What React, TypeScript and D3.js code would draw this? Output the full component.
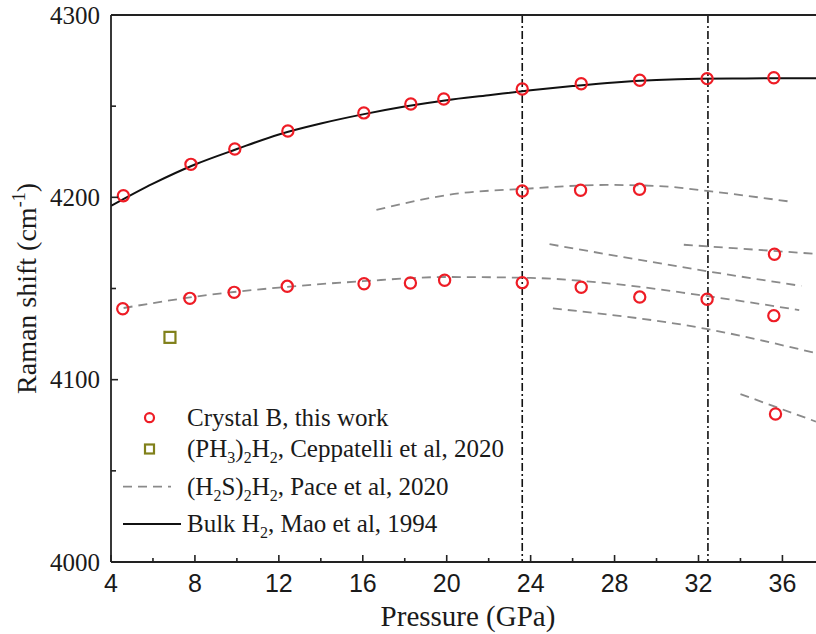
import React from 'react';
import * as d3 from 'd3';

const W = 816;
const H = 634;

const xDomain = [4, 37.6];
const yDomain = [4000, 4300];
const xMajorTicks = [4, 8, 12, 16, 20, 24, 28, 32, 36];
const xMinorTicks = [6, 10, 14, 18, 22, 26, 30, 34];
const yMajorTicks = [4000, 4100, 4200, 4300];
const yMinorTicks = [4050, 4150, 4250];
const transitionPressures = [23.6, 32.45];

// Crystal B, this work
const crystalPressure = [
  4.59, 7.81, 9.9, 12.43, 16.05, 18.29, 19.86, 23.6, 26.41, 29.2, 32.41, 35.59,
  23.6, 26.38, 29.19,
  4.56, 7.76, 9.87, 12.4, 16.06, 18.27, 19.9, 23.6, 26.41, 29.2, 32.41, 35.59,
  35.62, 35.67,
];
const crystalShift = [
  4200.9, 4218.1, 4226.5, 4236.4, 4246.3, 4251.2, 4253.9, 4259.4, 4262.3, 4264.2, 4265.1, 4265.6,
  4203.5, 4203.9, 4204.4,
  4138.9, 4144.6, 4147.9, 4151.2, 4152.6, 4153.0, 4154.5, 4153.2, 4150.7, 4145.3, 4144.1, 4135.1,
  4168.8, 4081.2,
];

// (PH3)2H2, Ceppatelli et al, 2020
const ph3Pressure = [6.81];
const ph3Shift = [4123.2];

// (H2S)2H2, Pace et al, 2020 — branches
const paceBranch1P = [4.6, 8, 12, 16, 20, 24, 28, 32, 36.8];
const paceBranch1V = [4139.3, 4145.5, 4150.5, 4154, 4156.3, 4155.8, 4152.5, 4146.5, 4138.2];
const paceBranch2P = [16.65, 20.6, 23.6, 27.6, 30.1, 32.4, 36.4];
const paceBranch2V = [4193.1, 4202.2, 4204.6, 4206.8, 4206.2, 4203.5, 4197.6];
const paceBranch3P = [24.9, 32.4, 36.9];
const paceBranch3V = [4174.3, 4159.5, 4151.4];
const paceBranch4P = [31.3, 37.6];
const paceBranch4V = [4174, 4169];
const paceBranch5P = [25.06, 32.3, 37.6];
const paceBranch5V = [4139.1, 4128, 4114.5];
const paceBranch6P = [34.0, 37.6];
const paceBranch6V = [4092.1, 4077];

// Bulk H2, Mao et al, 1994
const bulkP = [4, 6, 8, 10, 12, 14, 16, 18, 20, 22, 24, 26, 28, 30, 32, 34, 36, 37.6];
const bulkV = [4195.3, 4207.5, 4218, 4226.5, 4234.5, 4240.5, 4245.5, 4249.8, 4253.3, 4256, 4258.7, 4261, 4263, 4264.3, 4265, 4265.2, 4265.3, 4265.3];

const paceBranches = [
  [paceBranch1P, paceBranch1V],
  [paceBranch2P, paceBranch2V],
  [paceBranch3P, paceBranch3V],
  [paceBranch4P, paceBranch4V],
  [paceBranch5P, paceBranch5V],
  [paceBranch6P, paceBranch6V],
];

const SERIF = '"Liberation Serif", "Times New Roman", serif';
const SANS = '"Liberation Sans", Arial, sans-serif';

export default function App() {
  const left = 111;
  const right = 816;
  const top = 15;
  const bottom = 562;
  const x = d3.scaleLinear().domain(xDomain).range([left, right]);
  const y = d3.scaleLinear().domain(yDomain).range([bottom, top]);

  const line = d3
    .line<[number, number]>()
    .x((d) => x(d[0]))
    .y((d) => y(d[1]))
    .curve(d3.curveMonotoneX);

  const zip = (a: number[], b: number[]) => a.map((v, i) => [v, b[i]] as [number, number]);

  const grayDash = '#8a8a8a';

  return (
    <svg
      width={W}
      height={H}
      style={{ position: 'absolute', left: 0, top: 0, background: '#fff' }}
    >
      <defs>
        <clipPath id="plotClip">
          <rect x={left} y={top} width={right - left} height={bottom - top} />
        </clipPath>
      </defs>
      <rect x={0} y={0} width={W} height={H} fill="#fff" />

      <g clipPath="url(#plotClip)">
        {/* transitions */}
        {transitionPressures.map((p) => (
          <line
            key={p}
            x1={x(p)}
            x2={x(p)}
            y1={top}
            y2={bottom}
            stroke="#111"
            strokeWidth={1.6}
            strokeDasharray="8,3,2,3"
          />
        ))}
        {/* Pace dashed branches */}
        {paceBranches.map(([p, v], i) => (
          <path
            key={i}
            d={line(zip(p, v)) || ''}
            fill="none"
            stroke={grayDash}
            strokeWidth={1.8}
            strokeDasharray="9,6"
          />
        ))}
        {/* Bulk H2 */}
        <path d={line(zip(bulkP, bulkV)) || ''} fill="none" stroke="#111" strokeWidth={2} />
        {/* PH3 square */}
        {ph3Pressure.map((p, i) => (
          <rect
            key={i}
            x={x(p) - 5.5}
            y={y(ph3Shift[i]) - 5.5}
            width={11}
            height={11}
            fill="none"
            stroke="#80801a"
            strokeWidth={2.2}
          />
        ))}
        {/* Crystal B */}
        {crystalPressure.map((p, i) => (
          <circle
            key={i}
            cx={x(p)}
            cy={y(crystalShift[i])}
            r={5.6}
            fill="none"
            stroke="#ee1c25"
            strokeWidth={2.2}
          />
        ))}
      </g>

      {/* axes frame */}
      <line x1={left} x2={right} y1={top} y2={top} stroke="#222" strokeWidth={1.8} />
      <line x1={left} x2={right} y1={bottom} y2={bottom} stroke="#222" strokeWidth={1.8} />
      <line x1={left} x2={left} y1={top} y2={bottom} stroke="#222" strokeWidth={1.8} />

      {/* x ticks */}
      {xMajorTicks.map((t) => (
        <g key={'xm' + t}>
          <line x1={x(t)} x2={x(t)} y1={bottom} y2={bottom - 7} stroke="#222" strokeWidth={1.6} />
          <text
            x={x(t)}
            y={592}
            textAnchor="middle"
            fontFamily={SANS}
            fontSize={25}
            fill="#1a1a1a"
          >
            {t}
          </text>
        </g>
      ))}
      {xMinorTicks.map((t) => (
        <line key={'xn' + t} x1={x(t)} x2={x(t)} y1={bottom} y2={bottom - 4} stroke="#222" strokeWidth={1.6} />
      ))}

      {/* y ticks */}
      {yMajorTicks.map((t) => (
        <g key={'ym' + t}>
          <line x1={left} x2={left + 7} y1={y(t)} y2={y(t)} stroke="#222" strokeWidth={1.6} />
          <text
            x={100}
            y={y(t)}
            dy="0.34em"
            textAnchor="end"
            fontFamily={SERIF}
            fontSize={25}
            fill="#1a1a1a"
          >
            {t}
          </text>
        </g>
      ))}
      {yMinorTicks.map((t) => (
        <line key={'yn' + t} x1={left} x2={left + 5} y1={y(t)} y2={y(t)} stroke="#222" strokeWidth={1.6} />
      ))}

      {/* axis titles */}
      <text x={468} y={626} textAnchor="middle" fontFamily={SERIF} fontSize={29} fill="#1a1a1a">
        Pressure (GPa)
      </text>
      <text
        transform={`translate(36, ${(top + bottom) / 2}) rotate(-90)`}
        textAnchor="middle"
        fontFamily={SERIF}
        fontSize={28}
        fill="#1a1a1a"
      >
        Raman shift (cm
        <tspan dy={-11} fontSize={18}>-1</tspan>
        <tspan dy={11}>)</tspan>
      </text>

      {/* legend */}
      <g fontFamily={SERIF} fontSize={25} fill="#1a1a1a">
        <circle cx={149.5} cy={417.7} r={4.5} fill="none" stroke="#ee1c25" strokeWidth={2.2} />
        <text x={187} y={425.7}>Crystal B, this work</text>

        <rect x={145} y={444.5} width={9} height={9} fill="none" stroke="#80801a" strokeWidth={2.2} />
        <text x={187} y={457}>
          (PH<tspan dy={6} fontSize={16}>3</tspan>
          <tspan dy={-6}>)</tspan>
          <tspan dy={6} fontSize={16}>2</tspan>
          <tspan dy={-6}>H</tspan>
          <tspan dy={6} fontSize={16}>2</tspan>
          <tspan dy={-6}>, Ceppatelli et al, 2020</tspan>
        </text>

        <line x1={123} x2={171} y1={486.7} y2={486.7} stroke={grayDash} strokeWidth={1.8} strokeDasharray="9,6" />
        <text x={187} y={494.7}>
          (H<tspan dy={6} fontSize={16}>2</tspan>
          <tspan dy={-6}>S)</tspan>
          <tspan dy={6} fontSize={16}>2</tspan>
          <tspan dy={-6}>H</tspan>
          <tspan dy={6} fontSize={16}>2</tspan>
          <tspan dy={-6}>, Pace et al, 2020</tspan>
        </text>

        <line x1={123} x2={181} y1={524} y2={524} stroke="#111" strokeWidth={2} />
        <text x={187} y={532}>
          Bulk H<tspan dy={6} fontSize={16}>2</tspan>
          <tspan dy={-6}>, Mao et al, 1994</tspan>
        </text>
      </g>
    </svg>
  );
}
